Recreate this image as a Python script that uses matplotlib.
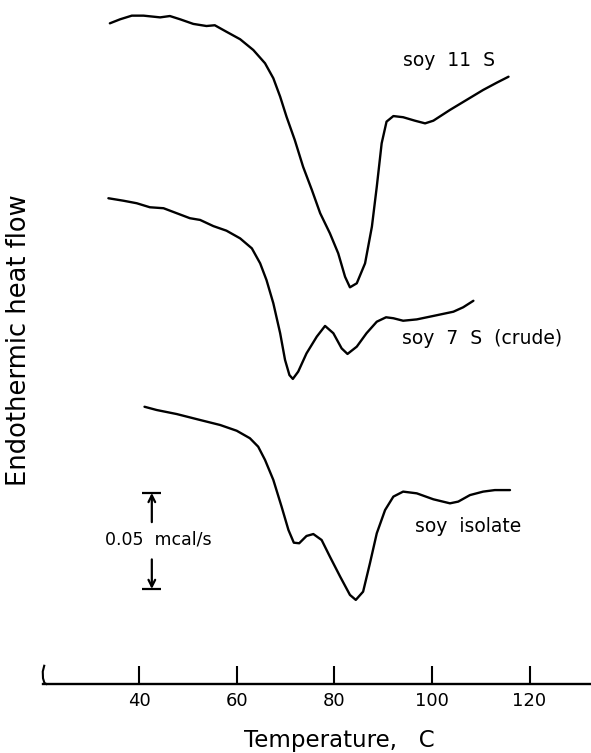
import matplotlib
matplotlib.use("Agg")
from matplotlib import pyplot as plt

# DSC thermograms, temperature in C, heat flow in mcal/s (curves stacked with offsets)
t_11s = [34.0, 36.1, 38.5, 40.9, 44.3, 46.3, 48.4, 51.1, 53.8, 55.5, 57.9, 60.7, 63.4,
         65.8, 67.5, 68.9, 70.2, 71.9, 73.6, 75.4, 77.1, 79.1, 80.8, 82.2, 83.2, 84.6,
         86.3, 87.7, 88.7, 89.7, 90.7, 92.1, 94.1, 96.5, 98.6, 100.3, 103.7, 107.1,
         110.5, 113.3, 115.7]
q_11s = [0.3441, 0.3462, 0.3481, 0.3481, 0.3472, 0.3479, 0.3462, 0.3438, 0.3427, 0.3431,
         0.3397, 0.3358, 0.3302, 0.3233, 0.3155, 0.3059, 0.2955, 0.2833, 0.2694, 0.2573,
         0.2452, 0.2347, 0.2243, 0.2121, 0.2066, 0.2087, 0.2191, 0.2382, 0.2590, 0.2816,
         0.2929, 0.2958, 0.2952, 0.2934, 0.2920, 0.2934, 0.2990, 0.3042, 0.3094, 0.3132,
         0.3163]

t_7s = [33.7, 36.8, 39.5, 42.2, 45.0, 47.7, 50.4, 52.5, 55.2, 57.9, 60.7, 63.1, 64.8,
        66.1, 67.5, 68.9, 69.9, 70.8, 71.5, 72.6, 74.3, 76.4, 78.1, 79.8, 81.5, 82.7,
        84.6, 86.6, 88.7, 90.6, 92.1, 94.1, 96.9, 100.3, 104.4, 106.4, 108.5]
q_7s = [0.2530, 0.2517, 0.2504, 0.2483, 0.2478, 0.2452, 0.2426, 0.2417, 0.2385, 0.2361,
        0.2321, 0.2269, 0.2191, 0.2104, 0.1983, 0.1827, 0.1688, 0.1609, 0.1589, 0.1627,
        0.1722, 0.1809, 0.1865, 0.1827, 0.1748, 0.1719, 0.1757, 0.1827, 0.1887, 0.1910,
        0.1905, 0.1892, 0.1899, 0.1917, 0.1939, 0.1962, 0.1996]

t_iso = [41.1, 43.6, 47.7, 52.5, 56.6, 60.0, 62.7, 64.4, 65.8, 67.5, 69.2, 70.6, 71.7,
         72.8, 74.3, 75.7, 77.4, 79.1, 81.2, 83.2, 84.4, 85.9, 87.3, 88.7, 90.4, 92.1,
         94.1, 96.9, 100.3, 103.7, 105.4, 107.8, 110.5, 112.9, 116.0]
q_iso = [0.1444, 0.1427, 0.1406, 0.1375, 0.1349, 0.1319, 0.1280, 0.1236, 0.1167, 0.1063,
         0.0923, 0.0802, 0.0736, 0.0733, 0.0771, 0.0781, 0.0750, 0.0663, 0.0559, 0.0464,
         0.0438, 0.0481, 0.0629, 0.0785, 0.0906, 0.0976, 0.1002, 0.0993, 0.0962, 0.0941,
         0.0950, 0.0984, 0.1002, 0.1010, 0.1010]

curve_labels = ["soy  11  S", "soy  7  S  (crude)", "soy  isolate"]
label_t = [94.1, 93.9, 96.5]
label_q = [0.325, 0.1797, 0.0818]

xticks = [40, 60, 80, 100, 120]

# vertical scale bar
bar_t = 42.6
bar_low = 0.0495
bar_span = 0.05

fig = plt.figure(figsize=(5.91, 7.53), dpi=100)
ax = fig.add_axes([43 / 591, 69 / 753, 548 / 591, 684 / 753])

for t, q in [(t_11s, q_11s), (t_7s, q_7s), (t_iso, q_iso)]:
    ax.plot(t, q, color="black", lw=1.7, solid_joinstyle="round", solid_capstyle="round")

for lab, t, q in zip(curve_labels, label_t, label_q):
    ax.text(t, q, lab, fontsize=13.5, ha="left", va="center")

# scale bar: caps, arrows and the value in between
bar_high = bar_low + bar_span
bar_mid = bar_low + bar_span / 2
ax.hlines([bar_low, bar_high], bar_t - 2.0, bar_t + 1.9, color="black", lw=1.6)
ax.annotate("", xy=(bar_t, bar_high), xytext=(bar_t, bar_mid + 0.0098),
            arrowprops=dict(arrowstyle="->", lw=1.6, color="black", mutation_scale=12,
                            shrinkA=0, shrinkB=0))
ax.annotate("", xy=(bar_t, bar_low), xytext=(bar_t, bar_mid - 0.0096),
            arrowprops=dict(arrowstyle="->", lw=1.6, color="black", mutation_scale=12,
                            shrinkA=0, shrinkB=0))
ax.text(bar_t + 1.3, bar_mid + 0.0008, "0.05  mcal/s", fontsize=12.5, ha="center", va="center")

ax.set_xlim(20.3, 132.6)
ax.set_ylim(0, 0.35625)
ax.set_xticks(xticks)
ax.tick_params(axis="x", direction="in", length=13, width=1.5, pad=6, labelsize=13)
ax.set_yticks([])
for side in ["top", "right", "left"]:
    ax.spines[side].set_visible(False)
ax.spines["bottom"].set_linewidth(1.7)

# broken-axis mark at the left end of the temperature axis
ax.plot([20.55, 20.25, 20.3, 20.6, 21.0], [0.0095, 0.0065, 0.003, 0.0005, 0.0],
        color="black", lw=1.5, clip_on=False)

fig.text(339 / 591, 13 / 753, "Temperature,   C", fontsize=16.5, ha="center", va="center")
fig.text(19 / 591, 413 / 753, "Endothermic heat flow", fontsize=18.5, rotation=90,
         ha="center", va="center")

fig.savefig("out.png", dpi=100)
